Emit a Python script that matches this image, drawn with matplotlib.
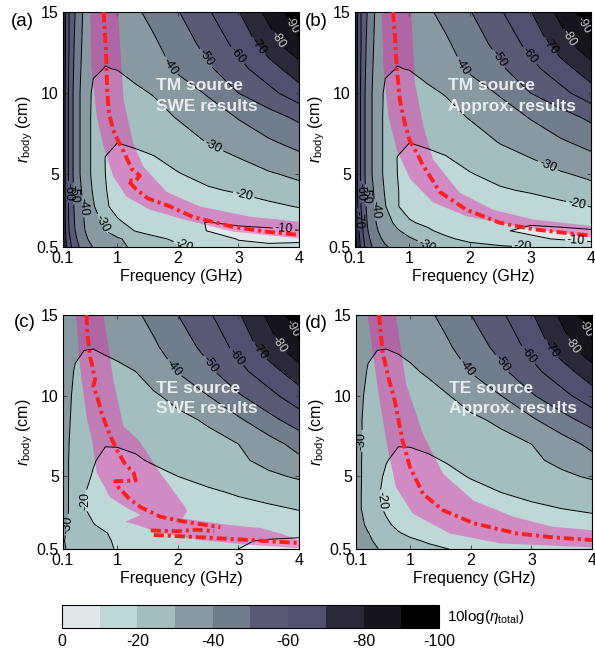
import numpy as np
import matplotlib
matplotlib.use("Agg")
import matplotlib.pyplot as plt

plt.rcParams['font.family'] = ['Liberation Sans', 'DejaVu Sans']
plt.rcParams['mathtext.fontset'] = 'custom'
plt.rcParams['mathtext.rm'] = 'Liberation Sans'
plt.rcParams['mathtext.it'] = 'Liberation Sans:italic'
plt.rcParams['axes.unicode_minus'] = False

# grid of the efficiency maps (frequency in GHz, body radius in cm)
F = [0.1, 0.2, 0.3, 0.45, 0.6, 0.8, 1.0, 1.3, 1.6, 2.0, 2.5, 3.0, 3.5, 4.0]
R = [0.5, 1.0, 1.5, 2.0, 3.0, 4.0, 5.0, 6.0, 7.0, 8.5, 10.0, 11.5, 13.0, 15.0]

# 10log(eta_total), one row per radius
eta_a = [
    [-78, -64, -54, -45, -39.5, -36, -32.5, -28, -25, -21.5, -16, -11.5, -10.8, -10.5],
    [-78, -62, -52, -42, -37, -34, -31, -27, -22.5, -18, -13, -9.7, -9.0, -9.6],
    [-77, -60, -50, -40.5, -35, -30, -26, -19.5, -16, -13, -9.8, -8.5, -8.8, -9.8],
    [-77, -59, -49, -40, -34, -28, -21.5, -17, -14, -11.5, -9.8, -11, -12, -13],
    [-77, -58, -48, -39, -31, -21.5, -16.5, -14, -13, -13, -14, -16, -18, -20.5],
    [-77, -58, -47, -37, -29, -20.5, -16, -14.5, -15, -16.5, -19, -21, -24, -27],
    [-77, -58, -46, -35, -28, -20, -16.5, -16, -17.5, -19.5, -23, -26, -29, -32],
    [-77, -58, -46, -35, -28, -19.8, -17.5, -18, -19.5, -23, -27, -30, -34.5, -38],
    [-77, -58, -46, -35, -28, -22, -20.2, -21.5, -23, -26, -30.5, -35, -39, -43],
    [-77, -58, -46, -35, -28, -25, -24, -25, -27, -30.5, -35, -40.5, -46, -52],
    [-77, -58, -46, -35, -28.5, -27, -27, -28.5, -30.5, -35, -41, -50, -57, -66],
    [-77, -59, -47, -36, -31, -29.8, -30.2, -32.5, -36, -41.5, -48.5, -57, -66, -75.5],
    [-77, -60, -48, -37, -32.5, -31.5, -32, -35, -38.5, -45, -53, -63, -75, -88],
    [-78, -60, -50, -38, -34.5, -33, -34, -38.5, -43, -49.5, -59, -69.5, -83, -97],
]
eta_b = [
    [-84, -68, -55, -46, -41, -37, -34.5, -30.5, -27, -24, -21.5, -19.5, -15, -11],
    [-83, -66, -53, -43, -38, -34, -31, -26.5, -22, -17, -13, -11, -9.5, -9.5],
    [-82, -64, -51, -41, -36, -31, -26.5, -21.5, -17, -13.5, -10.5, -9, -8.8, -9.4],
    [-80, -62, -50, -40, -34, -27.5, -21, -18, -15, -12, -10.2, -10.5, -11.5, -13],
    [-79, -60, -48, -38.5, -30.5, -20.5, -16.5, -14, -13, -13, -14, -15.5, -17.5, -20.2],
    [-78, -58, -47, -37, -29, -20.5, -16, -14.5, -15, -16.5, -19, -21, -24, -27],
    [-77, -58, -46, -35, -28, -20, -16.5, -16, -17.5, -19.5, -23, -26, -29, -32],
    [-77, -58, -46, -35, -28, -19.8, -17.5, -18, -19.5, -23, -27, -30, -34.5, -38],
    [-77, -58, -46, -35, -28, -22, -20.2, -21.5, -23, -26, -30.5, -35, -39, -43],
    [-77, -58, -46, -35, -28, -25, -24, -25, -27, -30.5, -35, -40.5, -46, -52],
    [-77, -58, -46, -35, -28.5, -27, -27, -28.5, -30.5, -35, -41, -50, -57, -66],
    [-77, -59, -47, -36, -31, -29.8, -30.2, -32.5, -36, -41.5, -48.5, -57, -66, -75.5],
    [-77, -60, -48, -37, -32.5, -31.5, -32, -35, -38.5, -45, -53, -63, -75, -88],
    [-78, -60, -50, -38, -34.5, -33, -34, -38.5, -43, -49.5, -59, -69.5, -83, -97],
]
eta_c = [
    [-31, -29, -27.5, -26, -24.5, -22.5, -19, -15.5, -13, -11.5, -10.5, -10, -9, -8.5],
    [-30.5, -28.5, -27, -25.5, -24, -21.5, -18.5, -15.5, -13.5, -12, -11, -10.5, -9.5, -9],
    [-31, -28.8, -27, -25, -23, -20.5, -17.5, -15.5, -14, -13, -12.5, -12.5, -12, -11.5],
    [-31.5, -29.5, -26, -23, -20.5, -17, -15, -14, -13.5, -13, -13.5, -14.5, -15.5, -16],
    [-32, -29.8, -24, -20.5, -17, -14.5, -13, -12.5, -13, -14, -15.5, -17, -18.5, -20.5],
    [-32, -29.8, -24.5, -20.5, -17.5, -15, -14, -14, -15, -16.5, -18.5, -21, -23.5, -26],
    [-32.5, -29.8, -25.5, -21.5, -19.5, -17, -16, -16.5, -17.5, -20, -23, -26, -28.5, -31],
    [-32.5, -29.8, -26.5, -23, -20.5, -18.5, -18, -19, -21, -23.5, -26, -28.5, -32.5, -38],
    [-33, -30, -27.5, -24.5, -22, -20.3, -20.5, -21.5, -23, -25, -27.5, -30, -36, -43.5],
    [-33.5, -30.5, -28, -25.5, -24, -23, -23, -24, -25.5, -28, -31, -38.5, -47, -55],
    [-34, -31, -28.5, -26.5, -25.5, -25.5, -26, -27, -29, -32.5, -40, -49, -57, -66],
    [-34.5, -31.5, -29.5, -28, -27.5, -28, -28.5, -30, -34, -40.5, -48, -57, -66, -75.5],
    [-35.5, -33, -31, -30.3, -30.2, -31, -32, -35, -38.5, -45, -53, -63, -75, -88],
    [-37, -35, -33.5, -32.5, -32, -32.5, -34, -38.5, -43, -50, -58.5, -69, -82, -97],
]
eta_d = [
    [-36, -34, -32, -30.3, -28, -25.5, -24, -22, -20.2, -18, -16.5, -15.5, -15, -15],
    [-35, -33, -31, -29, -26.5, -23.5, -21.5, -19, -17, -15.5, -15, -15, -15, -15],
    [-34, -32, -30.2, -27.5, -24, -20.5, -18, -16, -15, -14.5, -14.5, -15, -15.5, -16],
    [-33, -31, -28.5, -25, -21.5, -18, -16, -15, -14.5, -14.5, -15, -16, -17, -17.5],
    [-32, -29.7, -25, -22, -18.5, -15.5, -14, -13.5, -14, -15, -16.5, -18.5, -20, -21],
    [-32, -29.7, -24.5, -21, -18, -15.5, -14.5, -14.5, -15.5, -17.5, -20, -22, -24, -26],
    [-32.5, -29.8, -25.5, -21.5, -19, -17, -16, -16.5, -18, -20.5, -23, -26, -28.5, -31],
    [-32.5, -29.8, -26.5, -23, -20.3, -18.5, -18, -19, -20.5, -23, -26, -28.5, -32, -37],
    [-32.5, -30, -27.5, -24.5, -22, -20.3, -20.5, -21.5, -23, -25, -27.5, -30, -35.5, -42.5],
    [-33, -30, -28, -25.5, -24, -23, -23, -24, -25.5, -28.5, -31.5, -38.5, -46.5, -54],
    [-33.5, -30.5, -28.5, -26.5, -25.5, -25.5, -26, -27.5, -29.5, -33.5, -40, -49, -57, -66],
    [-34.5, -31.5, -29.5, -28, -27.5, -28, -29, -31, -34.5, -40.5, -48, -57, -66, -75.5],
    [-35.5, -33, -31, -30.3, -30.2, -30.8, -31.8, -35, -38.5, -45, -53, -63, -75, -88],
    [-37, -35, -33.5, -32.5, -32, -32.5, -34, -38.5, -43, -50, -58.5, -69, -82, -97],
]

# magenta bands (outline: lower-left edge downwards, then upper-right edge back up)
band_a_f = [0.55, 0.57, 0.66, 0.77, 0.93, 1.15, 1.54, 2.09, 2.91, 4.0, 4.0, 3.19, 2.36, 1.81, 1.43, 1.26, 1.1, 1.01]
band_a_r = [15.0, 11.6, 8.5, 6.7, 4.85, 3.6, 2.8, 2.2, 1.45, 1.03, 2.06, 2.37, 3.0, 3.9, 5.46, 6.9, 9.6, 15.0]
band_b_f = [0.54, 0.57, 0.65, 0.79, 1.01, 1.39, 1.94, 2.76, 4.0, 4.0, 3.04, 2.38, 1.83, 1.39, 1.23, 1.09, 1.03]
band_b_r = [15.0, 11.6, 8.6, 6.5, 4.7, 3.25, 2.4, 1.8, 1.1, 1.8, 2.2, 2.8, 3.85, 5.9, 7.95, 10.6, 15.0]
band_c_f = [0.32, 0.38, 0.49, 0.58, 0.66, 0.88, 1.16, 1.38, 1.13, 1.32, 1.71, 2.37, 3.2, 4.0,
            4.0, 3.7, 3.37, 2.82, 2.07, 2.15, 2.12, 1.71, 1.35, 1.1, 0.94, 0.77]
band_c_r = [15.0, 11.8, 8.7, 7.25, 5.2, 3.7, 3.04, 2.6, 2.19, 1.99, 1.49, 1.06, 0.75, 0.55,
            1.05, 1.45, 1.8, 2.0, 2.4, 2.8, 3.1, 5.2, 7.25, 8.1, 10.8, 15.0]
band_d_f = [0.29, 0.49, 0.63, 0.76, 1.04, 1.65, 2.48, 4.0, 4.0, 3.36, 2.7, 2.04, 1.54, 1.21, 0.93, 0.76]
band_d_r = [15.0, 9.67, 6.6, 4.33, 2.69, 1.46, 0.85, 0.6, 1.67, 1.87, 2.5, 3.5, 5.16, 7.6, 10.7, 15.0]

# red dash-dot curves
red_a_f = [0.77, 0.81, 0.83, 0.86, 0.95, 1.1, 1.24, 1.37, 1.3, 1.17, 1.3, 1.5, 1.87, 2.25, 2.9, 3.45, 4.0]
red_a_r = [15.0, 12.7, 10.2, 8.7, 7.5, 6.4, 5.3, 4.9, 4.6, 4.6, 4.1, 3.5, 3.0, 2.35, 1.75, 1.45, 1.25]
red_b_f = [0.73, 0.76, 0.79, 0.84, 0.92, 1.0, 1.12, 1.23, 1.5, 1.94, 2.49, 3.04, 3.5, 4.0]
red_b_r = [15.0, 13.5, 11.6, 9.6, 8.2, 7.1, 6.3, 5.5, 3.9, 2.8, 2.0, 1.6, 1.4, 1.2]
nan = np.nan
red_c_f = [0.49, 0.5, 0.55, 0.63, 0.6, 0.66, 0.74, 0.85, 0.98, 1.12, 1.27, 1.3, 0.96, 1.02, 1.2, 1.38,
           1.71, 2.09, 2.7, nan, 1.55, 2.0, 2.3, 2.6, nan, 1.6, 2.5, 3.3, 4.0]
red_c_r = [15.0, 13.9, 12.4, 11.0, 10.6, 10.0, 8.9, 7.8, 6.7, 5.8, 5.2, 4.75, 4.7, 4.3, 3.6, 3.1,
           2.5, 2.2, 1.85, nan, 1.65, 1.6, 1.7, 1.6, nan, 1.37, 1.2, 1.03, 0.87]
red_d_f = [0.48, 0.54, 0.63, 0.74, 0.87, 0.99, 1.21, 1.54, 2.04, 2.76, 3.36, 4.0]
red_d_r = [15.0, 12.7, 11.2, 9.7, 7.2, 5.6, 3.9, 2.9, 2.1, 1.46, 1.22, 1.05]

# contour labels (level, f, r)
labels_a = [(-90, 3.8, 14.0), (-80, 3.64, 13.3), (-70, 3.3, 12.8), (-60, 2.98, 12.3),
            (-50, 2.48, 12.2), (-40, 1.9, 11.7), (-30, 2.58, 6.7), (-20, 3.08, 3.6),
            (-60, 0.2, 3.9), (-50, 0.3, 3.8), (-40, 0.43, 3.0), (-30, 0.73, 1.9),
            (-20, 2.1, 0.6), (-10, 3.75, 1.6)]
labels_b = [(-90, 3.8, 14.0), (-80, 3.6, 13.3), (-70, 3.3, 12.8), (-60, 2.98, 12.3),
            (-50, 2.5, 12.2), (-40, 1.9, 11.7), (-30, 3.26, 5.3), (-20, 3.75, 2.9),
            (-70, 0.155, 2.2), (-60, 0.21, 3.9), (-50, 0.29, 3.7), (-40, 0.46, 2.8),
            (-30, 1.31, 0.68), (-20, 2.93, 0.6), (-10, 3.75, 0.85)]
labels_c = [(-90, 3.8, 14.0), (-80, 3.59, 13.0), (-70, 3.29, 12.6), (-60, 2.93, 12.3),
            (-50, 2.48, 11.8), (-40, 1.93, 11.7), (-20, 0.47, 3.5), (-30, 0.2, 2.0)]
labels_d = [(-90, 3.8, 14.0), (-80, 3.58, 12.95), (-70, 3.28, 12.75), (-60, 2.9, 12.4),
            (-50, 2.48, 11.9), (-40, 1.9, 11.6), (-30, 0.24, 7.2), (-20, 0.51, 3.5)]

levels = [-100, -90, -80, -70, -60, -50, -40, -30, -20, -10, 0]
fill_colors = ['#000000', '#16141c', '#2b2939', '#525070', '#5a5a77',
               '#717c8c', '#8899a2', '#a2bebe', '#bed7d7', '#dfe9e9']
line_levels = levels[1:-1]


def lab_fmt(v):
    return '%d' % round(v)


def draw_panel(ax, eta, band_f, band_r, red_f, red_r, labels, title):
    Z = np.array(eta)
    cf = ax.contourf(F, R, Z, levels=levels, colors=fill_colors, zorder=1)
    ax.fill(band_f, band_r, color='#ed1ba8', alpha=0.4, lw=0, zorder=2)
    # one contour set per level so each label sits on the right line
    for lev in line_levels:
        cs = ax.contour(F, R, Z, levels=[lev], colors='k', linewidths=0.7,
                        linestyles='solid', zorder=3)
        pos = [(x, y) for l, x, y in labels if l == lev]
        if pos:
            c = '#c8c8c8' if lev <= -80 else 'k'
            ax.clabel(cs, manual=pos, inline=True, inline_spacing=2,
                      fontsize=9, fmt=lab_fmt, colors=c)
    ax.plot(red_f, red_r, color='#ff1f1f', lw=2.8, dashes=(2.6, 1.0, 0.8, 1.0), zorder=4)
    ax.text(1.63, 10.45, title[0], color='#e8ecec', fontsize=12.5, fontweight='bold',
            va='center', ha='left', zorder=5)
    ax.text(1.63, 9.2, title[1], color='#e8ecec', fontsize=12.5, fontweight='bold',
            va='center', ha='left', zorder=5)
    ax.set_xlim(0.1, 4)
    ax.set_ylim(0.5, 15)
    ax.set_xticks([0.1, 1, 2, 3, 4])
    ax.set_xticklabels(['0.1', '1', '2', '3', '4'])
    ax.set_yticks([0.5, 5, 10, 15])
    ax.set_yticklabels(['0.5', '5', '10', '15'])
    ax.tick_params(direction='in', top=True, right=True, length=3, width=0.6,
                   labelsize=11.5, pad=3, color='#333333')
    for s in ax.spines.values():
        s.set_linewidth(0.8)
    ax.set_xlabel('Frequency (GHz)', fontsize=11.5, labelpad=2)
    ax.set_ylabel('$r_{\\rm body}$ (cm)', fontsize=11.5, labelpad=1)
    return cf


fig = plt.figure(figsize=(5.95, 6.49), dpi=100)
ax_a = fig.add_axes([63 / 595, 1 - 247 / 649, 236 / 595, 235 / 649])
ax_b = fig.add_axes([355 / 595, 1 - 247 / 649, 236 / 595, 235 / 649])
ax_c = fig.add_axes([63 / 595, 1 - 549 / 649, 236 / 595, 234 / 649])
ax_d = fig.add_axes([356 / 595, 1 - 549 / 649, 236 / 595, 234 / 649])

cf = draw_panel(ax_a, eta_a, band_a_f, band_a_r, red_a_f, red_a_r, labels_a,
                ['TM source', 'SWE results'])
draw_panel(ax_b, eta_b, band_b_f, band_b_r, red_b_f, red_b_r, labels_b,
           ['TM source', 'Approx. results'])
draw_panel(ax_c, eta_c, band_c_f, band_c_r, red_c_f, red_c_r, labels_c,
           ['TE source', 'SWE results'])
draw_panel(ax_d, eta_d, band_d_f, band_d_r, red_d_f, red_d_r, labels_d,
           ['TE source', 'Approx. results'])

for letter, x, y in [('(a)', 22, 22), ('(b)', 316, 22), ('(c)', 25, 323), ('(d)', 316, 324)]:
    fig.text(x / 595, 1 - y / 649, letter, fontsize=13.5, ha='center', va='center')

cax = fig.add_axes([62 / 595, 1 - 628 / 649, 377 / 595, 23 / 649])
cb = fig.colorbar(cf, cax=cax, orientation='horizontal', ticks=[0, -20, -40, -60, -80, -100])
cax.invert_xaxis()
cax.set_xticklabels(['0', '-20', '-40', '-60', '-80', '-100'])
cax.tick_params(length=0, labelsize=11.5, pad=4)
cb.outline.set_linewidth(0.8)
fig.text(447 / 595, 1 - 617 / 649, '10log($\\eta_{\\rm total}$)', fontsize=11, ha='left', va='center')

fig.savefig('out.png', dpi=100)
